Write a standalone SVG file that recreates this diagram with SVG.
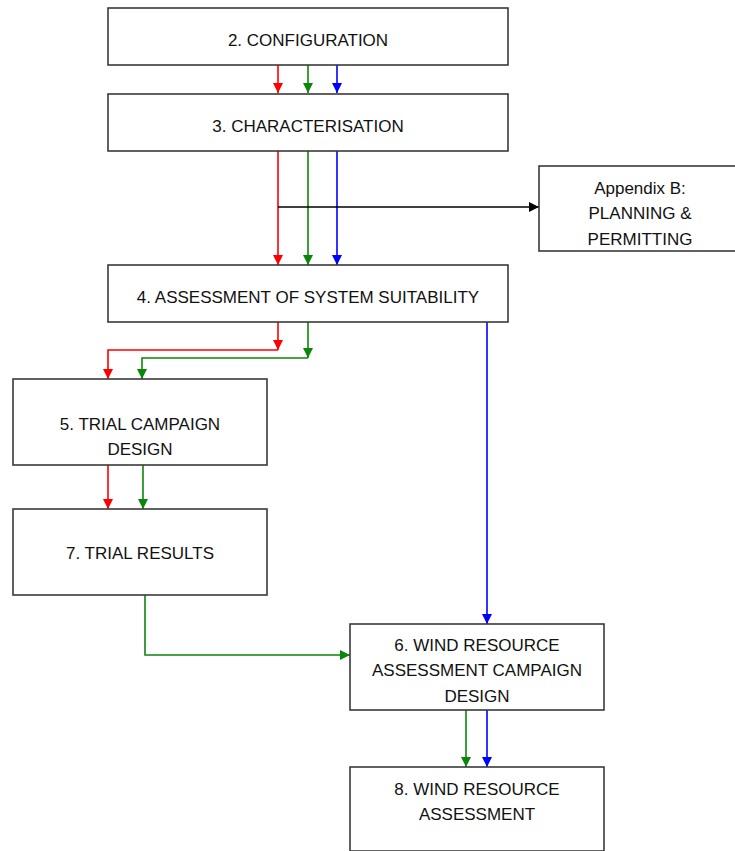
<svg xmlns="http://www.w3.org/2000/svg" width="735" height="851" viewBox="0 0 735 851">
<style>
.box{fill:#fff;stroke:#3a3a3a;stroke-width:1.6}
.t{font-family:"Liberation Sans",Arial,sans-serif;font-size:17px;fill:#111;text-anchor:middle}
.c{fill:none;stroke-width:1.6}
.r{stroke:#ff0000}.g{stroke:#0a870a}.b{stroke:#0000ff}.k{stroke:#000}
</style>
<defs>
<marker id="ar" viewBox="0 0 10 10" refX="10" refY="5" markerWidth="12" markerHeight="10" orient="auto" markerUnits="userSpaceOnUse"><path d="M0,0L10,5L0,10z" fill="#ff0000"/></marker>
<marker id="ag" viewBox="0 0 10 10" refX="10" refY="5" markerWidth="12" markerHeight="10" orient="auto" markerUnits="userSpaceOnUse"><path d="M0,0L10,5L0,10z" fill="#0a870a"/></marker>
<marker id="ab" viewBox="0 0 10 10" refX="10" refY="5" markerWidth="12" markerHeight="10" orient="auto" markerUnits="userSpaceOnUse"><path d="M0,0L10,5L0,10z" fill="#0000ff"/></marker>
<marker id="ak" viewBox="0 0 10 10" refX="10" refY="5" markerWidth="12" markerHeight="10" orient="auto" markerUnits="userSpaceOnUse"><path d="M0,0L10,5L0,10z" fill="#000"/></marker>
</defs>
<g id="connectors">
<path class="c r" d="M278,65V93" marker-end="url(#ar)"/>
<path class="c g" d="M308,65V93" marker-end="url(#ag)"/>
<path class="c b" d="M337,65V93" marker-end="url(#ab)"/>
<path class="c r" d="M278,151V265" marker-end="url(#ar)"/>
<path class="c g" d="M308,151V265" marker-end="url(#ag)"/>
<path class="c b" d="M337,151V265" marker-end="url(#ab)"/>
<path class="c k" d="M278,207H539" marker-end="url(#ak)"/>
<path class="c r" d="M278,322V350" marker-end="url(#ar)"/>
<path class="c r" d="M278,350H108V379" marker-end="url(#ar)"/>
<path class="c g" d="M308,322V358" marker-end="url(#ag)"/>
<path class="c g" d="M308,358H142V379" marker-end="url(#ag)"/>
<path class="c b" d="M487,322V624" marker-end="url(#ab)"/>
<path class="c r" d="M108,465V509" marker-end="url(#ar)"/>
<path class="c g" d="M143,465V509" marker-end="url(#ag)"/>
<path class="c g" d="M145,595V655H350" marker-end="url(#ag)"/>
<path class="c g" d="M466,710V767" marker-end="url(#ag)"/>
<path class="c b" d="M487,710V767" marker-end="url(#ab)"/>
</g>
<g id="n2"><rect class="box" x="108" y="8" width="400" height="57"/><text class="t" x="308" y="46">2. CONFIGURATION</text></g>
<g id="n3"><rect class="box" x="108" y="94" width="400" height="57"/><text class="t" x="308" y="132">3. CHARACTERISATION</text></g>
<g id="appB"><rect class="box" x="539" y="166" width="197" height="85"/><text class="t" x="640" y="194">Appendix B:</text><text class="t" x="640" y="219">PLANNING &amp;</text><text class="t" x="640" y="245">PERMITTING</text></g>
<g id="n4"><rect class="box" x="108" y="265" width="400" height="57"/><text class="t" x="308" y="303">4. ASSESSMENT OF SYSTEM SUITABILITY</text></g>
<g id="n5"><rect class="box" x="13" y="379" width="254" height="86"/><text class="t" x="140" y="430">5. TRIAL CAMPAIGN</text><text class="t" x="140" y="455">DESIGN</text></g>
<g id="n7"><rect class="box" x="13" y="509" width="254" height="86"/><text class="t" x="140" y="559">7. TRIAL RESULTS</text></g>
<g id="n6"><rect class="box" x="350" y="624" width="254" height="86"/><text class="t" x="477" y="651">6. WIND RESOURCE</text><text class="t" x="477" y="676">ASSESSMENT CAMPAIGN</text><text class="t" x="477" y="702">DESIGN</text></g>
<g id="n8"><rect class="box" x="350" y="767" width="254" height="84"/><text class="t" x="477" y="795">8. WIND RESOURCE</text><text class="t" x="477" y="820">ASSESSMENT</text></g>
</svg>
